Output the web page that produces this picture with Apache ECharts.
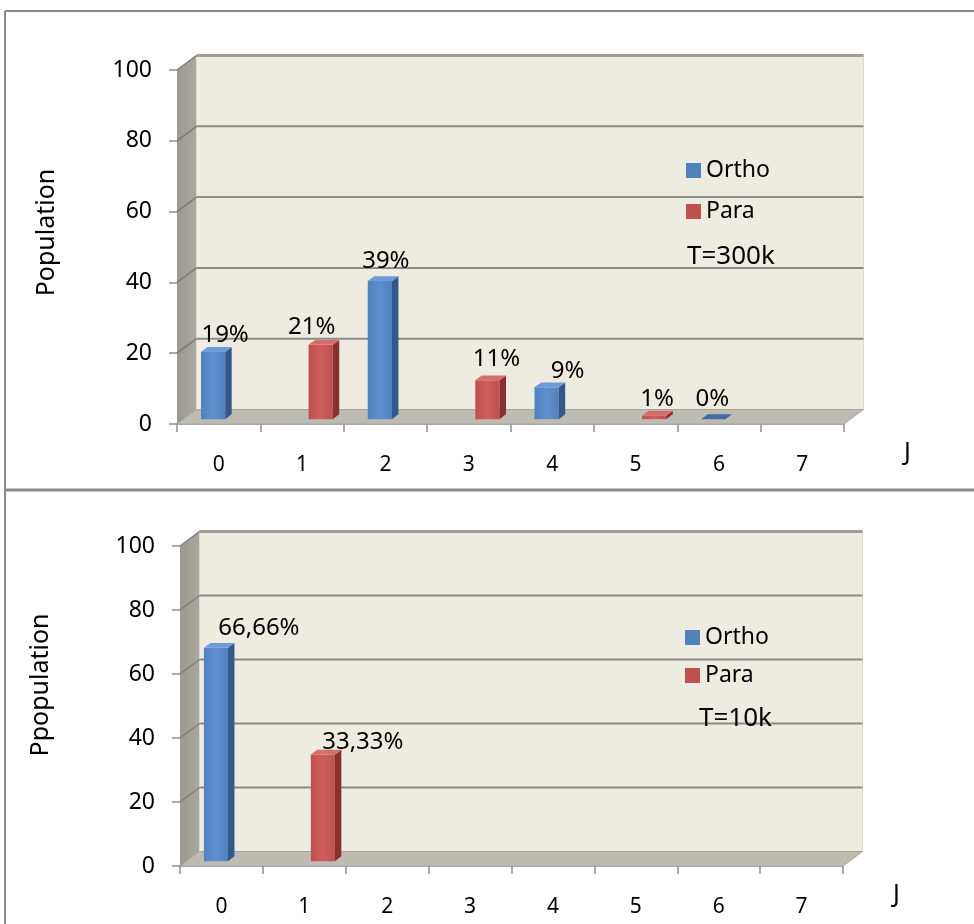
<!DOCTYPE html>
<html>
<head>
<meta charset="utf-8">
<script src="https://cdn.jsdelivr.net/npm/echarts@6/dist/echarts.min.js"></script>
<style>
  html, body { margin: 0; padding: 0; background: #ffffff; }
  #chart { width: 974px; height: 924px; }
</style>
</head>
<body>
<div id="chart"></div>
<script>
// Rotational level populations of H2 (ortho / para) at two temperatures
const categories = ['0', '1', '2', '3', '4', '5', '6', '7'];
const yTicks = [0, 20, 40, 60, 80, 100];

// T = 300 K
const ortho300 = [19, null, 39, null, 9, null, 0, null];
const para300 = [null, 21, null, 11, null, 1, null, null];

// T = 10 K
const ortho10 = [66.66, null, null, null, null, null, null, null];
const para10 = [null, 33.33, null, null, null, null, null, null];

// label nudges [dx, dy] from the top-front corner centre of each bar
const orthoShift300 = [[12, -17], null, [6, -20], null, [21, -16], null, [-1, -20], null];
const paraShift300 = [null, [-9, -18], null, [9, -21], null, [3, -16], null, null];
const orthoShift10 = [[43, -20], null, null, null, null, null, null, null];
const paraShift10 = [null, [40, -12], null, null, null, null, null, null];

const FONT = 'Noto Sans';
const DEPTH_X = 19.5;     // perspective offset of the back wall
const DEPTH_Y = -14.5;
const BAR_FRAC = 0.29;    // bar width as share of a category band

const ORTHO = { front: '#4F81BD', light: '#5E90CF', side: '#32598A', top: '#6C9BD6', flat: '#3F6CA6' };
const PARA = { front: '#C0504D', light: '#CC5F5C', side: '#8A302E', top: '#D56E6B', flat: '#B8423F' };

function fmtPct(v) {
  return Number.isInteger(v) ? v + '%' : v.toFixed(2).replace('.', ',') + '%';
}

function toData(arr) {
  const out = [];
  arr.forEach((v, i) => { if (v !== null) out.push([i, v]); });
  return out;
}

// back wall, side wall, floor and gridlines of the 3-D box
function wallRenderer(params, api) {
  const cs = params.coordSys;
  const x0 = cs.x, x1 = cs.x + cs.width;
  const yTop = cs.y, yBot = cs.y + cs.height;
  const dx = DEPTH_X, dy = DEPTH_Y;
  const children = [];
  // side wall
  children.push({
    type: 'polygon',
    shape: { points: [[x0, yTop], [x0 + dx, yTop + dy], [x0 + dx, yBot + dy], [x0, yBot]] },
    style: {
      fill: new echarts.graphic.LinearGradient(0, 0, 1, 0, [
        { offset: 0, color: '#9B988F' }, { offset: 1, color: '#ABA8A0' }
      ])
    }
  });
  // back wall
  children.push({
    type: 'rect',
    shape: { x: x0 + dx, y: yTop + dy, width: cs.width, height: cs.height },
    style: { fill: '#EEEBE1', stroke: '#DCD9CF', lineWidth: 1 }
  });
  // gridlines on back and side walls
  yTicks.forEach(t => {
    if (t === 0) return;
    const y = api.coord([0, t])[1];
    children.push({
      type: 'line',
      shape: { x1: x0 + dx, y1: y + dy, x2: x1 + dx, y2: y + dy },
      style: { stroke: t === 100 ? '#A09E99' : '#8C8B87', lineWidth: t === 100 ? 3 : 2 }
    });
    children.push({
      type: 'line',
      shape: { x1: x0, y1: y, x2: x0 + dx, y2: y + dy },
      style: { stroke: '#7E7C77', lineWidth: 1.5 }
    });
  });
  // floor
  children.push({
    type: 'polygon',
    shape: { points: [[x0, yBot], [x1, yBot], [x1 + dx, yBot + dy], [x0 + dx, yBot + dy]] },
    style: { fill: '#BEBBB3', stroke: '#A9A69E', lineWidth: 1 }
  });
  return { type: 'group', children: children };
}

// 3-D column: front face, right face and top face, plus the value label
function barRenderer(side, pal, shifts) {
  return function (params, api) {
    const cat = api.value(0);
    const v = api.value(1);
    const band = api.size([1, 0])[0];
    const w = band * BAR_FRAC;
    const base = api.coord([cat, 0]);
    const top = api.coord([cat, v]);
    const ox = DEPTH_X / 3, oy = DEPTH_Y / 3;
    const cx = base[0] + side * w / 2 + ox;
    const xa = cx - w / 2, xb = cx + w / 2;
    const yB = base[1] + oy, yT = top[1] + oy;
    const children = [];
    const flat = yB - yT <= 0.5;
    if (!flat) {
      children.push({
        type: 'rect',
        shape: { x: xa, y: yT, width: w, height: yB - yT },
        style: {
          fill: new echarts.graphic.LinearGradient(0, 0, 1, 0, [
            { offset: 0, color: pal.front }, { offset: 0.5, color: pal.light }, { offset: 1, color: pal.front }
          ])
        }
      });
      children.push({
        type: 'polygon',
        shape: { points: [[xb, yT], [xb + ox, yT + oy], [xb + ox, yB + oy], [xb, yB]] },
        style: { fill: pal.side }
      });
    }
    children.push({
      type: 'polygon',
      shape: { points: [[xa, yT], [xa + ox, yT + oy], [xb + ox, yT + oy], [xb, yT]] },
      style: { fill: flat ? pal.flat : pal.top }
    });
    const s = shifts[cat] || [0, -20];
    children.push({
      type: 'text',
      x: cx + s[0], y: yT + s[1],
      style: {
        text: fmtPct(v), fill: '#000', font: '24px "' + FONT + '"',
        align: 'center', verticalAlign: 'middle'
      }
    });
    return { type: 'group', children: children };
  };
}

function xAxisFor(gridIndex, nameGap) {
  return {
    type: 'category', gridIndex: gridIndex, data: categories, boundaryGap: true,
    name: 'J', nameLocation: 'end', nameGap: nameGap,
    nameTextStyle: { fontFamily: FONT, fontSize: 25, color: '#000', verticalAlign: 'top', lineHeight: 58 },
    axisLine: { show: true, lineStyle: { color: '#8E8E8E', width: 1.5 } },
    axisTick: { show: true, length: 8, lineStyle: { color: '#8E8E8E', width: 1.5 } },
    axisLabel: { fontFamily: FONT, fontSize: 21, color: '#000', margin: 31 },
    splitLine: { show: false }
  };
}

function yAxisFor(gridIndex, name, nameGap, lift) {
  return {
    type: 'value', gridIndex: gridIndex, min: 0, max: 100, interval: 20,
    name: name, nameLocation: 'middle', nameRotate: 90, nameGap: nameGap,
    nameTextStyle: { fontFamily: FONT, fontSize: 25, color: '#000', padding: [0, 0, 0, lift] },
    axisLine: { show: true, lineStyle: { color: '#8E8E8E', width: 1 } },
    axisTick: { show: true, length: 8, lineStyle: { color: '#8E8E8E', width: 1.5 } },
    axisLabel: { fontFamily: FONT, fontSize: 23, color: '#000', margin: 25 },
    splitLine: { show: false }
  };
}

function panelSeries(idx, ortho, para, oShift, pShift) {
  return [
    {
      type: 'custom', name: 'walls' + idx, xAxisIndex: idx, yAxisIndex: idx,
      silent: true, z: 1, data: [[0, 0]], renderItem: wallRenderer
    },
    {
      type: 'custom', name: 'Ortho', xAxisIndex: idx, yAxisIndex: idx, z: 3,
      itemStyle: { color: ORTHO.front }, encode: { x: 0, y: 1 },
      data: toData(ortho), renderItem: barRenderer(-1, ORTHO, oShift)
    },
    {
      type: 'custom', name: 'Para', xAxisIndex: idx, yAxisIndex: idx, z: 3,
      itemStyle: { color: PARA.front }, encode: { x: 0, y: 1 },
      data: toData(para), renderItem: barRenderer(1, PARA, pShift)
    }
  ];
}

function legendAt(left, top, gap) {
  return {
    orient: 'vertical', left: left, top: top, padding: 0, itemGap: gap,
    itemWidth: 15, itemHeight: 15, selectedMode: false,
    textStyle: { fontFamily: FONT, fontSize: 23, color: '#000', lineHeight: 22 },
    data: [{ name: 'Ortho', icon: 'rect' }, { name: 'Para', icon: 'rect' }]
  };
}

const chart = echarts.init(document.getElementById('chart'), null, { renderer: 'canvas' });

chart.setOption({
  animation: false,
  backgroundColor: '#ffffff',
  grid: [
    { left: 177, top: 70, width: 667, height: 354 },
    { left: 180, top: 546, width: 663, height: 322 }
  ],
  xAxis: [xAxisFor(0, 60), xAxisFor(1, 50)],
  yAxis: [yAxisFor(0, 'Population', 118, 29), yAxisFor(1, 'Ppopulation', 127, 42)],
  legend: [legendAt(686, 159, 18), legendAt(685, 626, 15)],
  series: [].concat(
    panelSeries(0, ortho300, para300, orthoShift300, paraShift300),
    panelSeries(1, ortho10, para10, orthoShift10, paraShift10)
  ),
  graphic: [
    // panel frames
    { type: 'line', shape: { x1: 5, y1: 11, x2: 974, y2: 11 }, style: { stroke: '#8A8A8A', lineWidth: 2 } },
    { type: 'line', shape: { x1: 5, y1: 11, x2: 5, y2: 924 }, style: { stroke: '#8A8A8A', lineWidth: 2 } },
    { type: 'line', shape: { x1: 5, y1: 490, x2: 974, y2: 490 }, style: { stroke: '#8A8A8A', lineWidth: 3 } },
    // temperature notes
    { type: 'text', left: 687, top: 244, style: { text: 'T=300k', font: '26px "' + FONT + '"', fill: '#000' }, z: 10 },
    { type: 'text', left: 699, top: 706, style: { text: 'T=10k', font: '26px "' + FONT + '"', fill: '#000' }, z: 10 }
  ]
});
</script>
</body>
</html>
